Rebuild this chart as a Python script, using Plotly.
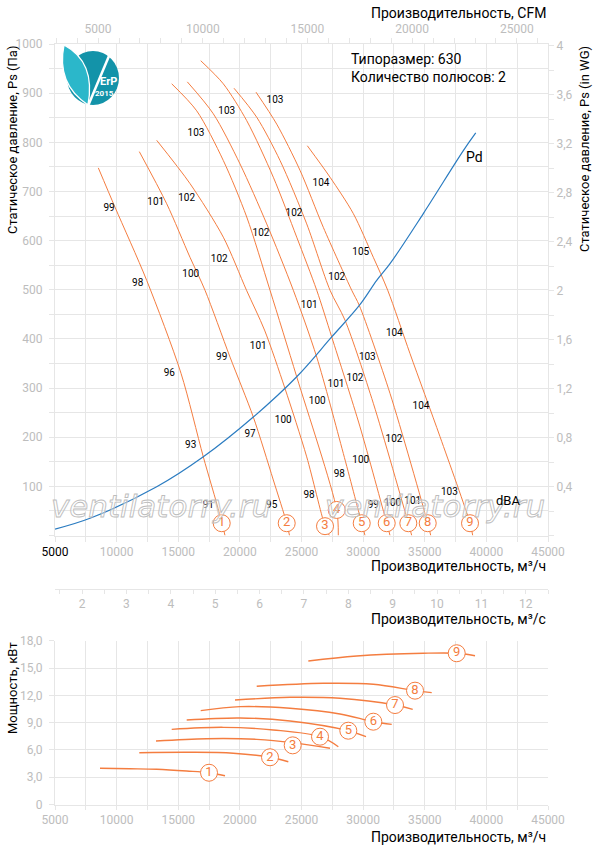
import base64
import plotly.graph_objects as go

W, H = 597, 850
ML, MR = 55, 49
PW = W - ML - MR


def px(xp):
    # pixel x -> paper x
    return (xp - ML) / PW


def py(yp):
    # pixel y -> paper y
    return 1 - yp / H


ORANGE = '#f47d40'
BLUE = '#2b7cc1'
GRID = '#e6e6e6'
TICK = '#bdbdbd'
FONT = 'Roboto, Noto Sans, sans-serif'

# fan curves, Q (m3/h) vs static pressure (Pa)
q1 = [8513, 9868, 12441, 15224, 17033, 18348, 18794]
p1 = [748, 668, 519, 330, 160, 45, 0]
q2 = [11840, 14063, 15954, 17171, 19200, 21090, 22713, 23800, 24027]
p2 = [781, 675, 566, 499, 363, 241, 113, 25, 0]
q3 = [13252, 15954, 18656, 20538, 22000, 23662, 25423, 26908, 27257]
p3 = [804, 716, 607, 499, 418, 299, 160, 19, 0]
q4 = [14469, 16498, 18656, 20555, 22445, 24611, 27857, 27987]
p4 = [919, 864, 763, 648, 499, 323, 52, 0]
q5 = [15735, 17845, 20011, 22177, 24336, 26235, 28393, 29886, 30153]
p5 = [923, 858, 756, 634, 499, 363, 167, 25, 0]
q6 = [16822, 18656, 20555, 22713, 24611, 26235, 27452, 29748, 31914, 32182]
p6 = [966, 919, 844, 729, 607, 499, 404, 221, 25, 0]
q7 = [19524, 21366, 23257, 25423, 27314, 28531, 30827, 33667, 33943]
p7 = [910, 851, 763, 634, 499, 438, 269, 25, 0]
q8 = [21309, 22989, 24879, 26770, 29074, 29691, 32182, 35241, 35485]
p8 = [902, 837, 743, 627, 499, 468, 289, 25, 0]
q9 = [25472, 27314, 29204, 30827, 31995, 33805, 36239, 38673, 38892]
p9 = [793, 729, 655, 566, 499, 370, 201, 25, 0]

# dynamic pressure
pd_q = [5000, 7840, 13252, 17033, 21090, 24611, 27452, 29691, 31103, 32182, 34884, 38130, 39136]
pd_p = [13, 35, 99, 160, 241, 323, 404, 468, 519, 553, 655, 783, 819]

# noise level labels (dBA)
lbl_q = [22851, 18932, 16441, 9382, 13171, 15686, 26583, 24392, 21715, 18331,
         16011, 11710, 29805, 27857, 25634, 32531, 21496, 18526, 30340, 14274,
         29342, 27800, 26283, 34697, 23524, 32506, 20822, 16011, 29805, 28068,
         25610, 36994, 17439, 22583, 30827, 32401, 34024]
lbl_p = [885, 863, 817, 666, 678, 685, 717, 656, 614, 562,
         531, 512, 575, 525, 468, 411, 385, 363, 363, 330,
         319, 308, 273, 263, 235, 196, 206, 183, 152, 124,
         82, 88, 61, 61, 61, 65, 69]
lbl_t = ['103', '103', '103', '99', '101', '102', '104', '102', '102', '102',
         '100', '98', '105', '102', '101', '104', '101', '99', '103', '96',
         '102', '101', '100', '104', '100', '102', '97', '93', '100', '98',
         '98', '103', '91', '95', '99', '100', '101']

curve_no = ['1', '2', '3', '4', '5', '6', '7', '8', '9']
circ_q = [18526, 23800, 26908, 27857, 29886, 31914, 33667, 35241, 38673]
circ_p = [25, 25, 19, 52, 25, 25, 25, 25, 25]

# power curves, Q (m3/h) vs kW
k1_q = [8651, 11085, 13252, 15686, 17496, 18794]
k1 = [3.98, 3.93, 3.87, 3.68, 3.49, 3.16]
k2_q = [11840, 15954, 19468, 22445, 23930]
k2 = [5.69, 5.74, 5.63, 5.19, 4.70]
k3_q = [13195, 17309, 21366, 24287, 27314]
k3 = [6.98, 7.23, 7.16, 6.8, 6.18]
k4_q = [14469, 18656, 22713, 26502, 27987]
k4 = [8.26, 8.48, 8.19, 7.45, 6.35]
k5_q = [15686, 20011, 24068, 28799, 30234]
k5 = [9.29, 9.51, 9.18, 8.11, 7.45]
k6_q = [16822, 20011, 24068, 28125, 30827, 32320]
k6 = [10.31, 10.75, 10.57, 9.95, 9.10, 8.81]
k7_q = [19605, 24068, 28125, 32588, 34024]
k7 = [11.48, 11.78, 11.67, 10.93, 10.46]
k8_q = [21366, 26770, 30827, 34211, 35566]
k8 = [12.99, 13.32, 13.21, 12.51, 12.29]
k9_q = [25553, 29480, 34884, 37594, 39079]
k9 = [15.77, 16.32, 16.62, 16.62, 16.35]

pcirc_q = [17496, 22445, 24287, 26502, 28799, 30827, 32588, 34211, 37594]
pcirc_kw = [3.49, 5.19, 6.5, 7.45, 8.11, 9.10, 10.93, 12.51, 16.62]

Q_MIN, Q_MAX = 5000, 45000
CFM = 1.699011
PA_PER_INWG = 249.089

fig = go.Figure()

curves = [(q1, p1), (q2, p2), (q3, p3), (q4, p4), (q5, p5),
          (q6, p6), (q7, p7), (q8, p8), (q9, p9)]
for q, p in curves:
    fig.add_trace(go.Scatter(x=q, y=p, mode='lines', hoverinfo='skip', showlegend=False,
                             line=dict(color=ORANGE, width=1, shape='spline', smoothing=0.8)))

fig.add_trace(go.Scatter(x=pd_q, y=pd_p, mode='lines', hoverinfo='skip', showlegend=False,
                         line=dict(color=BLUE, width=1.2, shape='spline')))

fig.add_trace(go.Scatter(x=lbl_q, y=lbl_p, text=lbl_t, mode='text', hoverinfo='skip',
                         showlegend=False, textfont=dict(size=10, color='black', family=FONT)))

fig.add_trace(go.Scatter(x=circ_q, y=circ_p, text=curve_no, mode='markers+text',
                         textposition='middle center', cliponaxis=False, hoverinfo='skip',
                         showlegend=False,
                         marker=dict(size=17, color='white', line=dict(color=ORANGE, width=1)),
                         textfont=dict(size=13, color=ORANGE, family=FONT)))

# dummy traces so the secondary scales are drawn
fig.add_trace(go.Scatter(x=[Q_MIN / CFM, Q_MAX / CFM], y=[0, 0], xaxis='x2', yaxis='y',
                         mode='markers', marker=dict(opacity=0), hoverinfo='skip', showlegend=False))
fig.add_trace(go.Scatter(x=[Q_MIN, Q_MIN], y=[0, 1000 / PA_PER_INWG], xaxis='x', yaxis='y2',
                         mode='markers', marker=dict(opacity=0), hoverinfo='skip', showlegend=False))
fig.add_trace(go.Scatter(x=[Q_MIN / 3600, Q_MAX / 3600], y=[0, 0], xaxis='x3', yaxis='y',
                         mode='markers', marker=dict(opacity=0), hoverinfo='skip', showlegend=False))

# power chart
power = [(k1_q, k1), (k2_q, k2), (k3_q, k3), (k4_q, k4), (k5_q, k5),
         (k6_q, k6), (k7_q, k7), (k8_q, k8), (k9_q, k9)]
for q, k in power:
    fig.add_trace(go.Scatter(x=q, y=k, xaxis='x4', yaxis='y4', mode='lines', hoverinfo='skip',
                             showlegend=False, line=dict(color=ORANGE, width=1.4, shape='spline')))

fig.add_trace(go.Scatter(x=pcirc_q, y=pcirc_kw, text=curve_no, xaxis='x4', yaxis='y4',
                         mode='markers+text', textposition='middle center', cliponaxis=False,
                         hoverinfo='skip', showlegend=False,
                         marker=dict(size=17, color='white', line=dict(color=ORANGE, width=1)),
                         textfont=dict(size=13, color=ORANGE, family=FONT)))

# tick setups
qx_vals = list(range(5000, 45001, 2500))
qx_text = [str(v) if v % 5000 == 0 else '' for v in qx_vals]
qx_main_text = list(qx_text)
qx_main_text[0] = "<span style='color:black'>5000</span>"

pa_vals = list(range(0, 1001, 50))
pa_text = [str(v) if v % 100 == 0 and v > 0 else '' for v in pa_vals]

wg_vals = [round(0.2 * i, 1) for i in range(21)]
wg_text = [('%g' % v).replace('.', ',') if i % 2 == 0 and i > 0 else '' for i, v in enumerate(wg_vals)]

cfm_vals = list(range(3000, 26001, 1000))
cfm_text = [str(v) if v % 5000 == 0 else '' for v in cfm_vals]

ms_vals = [1.5 + 0.5 * i for i in range(23)]
ms_text = [str(int(v)) if v == int(v) else '' for v in ms_vals]

kw_vals = [0, 3, 6, 9, 12, 15, 18]
kw_text = ['0', '3,0', '6,0', '9,0', '12,0', '15,0', '18,0']

tickfont = dict(size=12, color=TICK, family=FONT)
common = dict(showline=True, linecolor=GRID, ticks='outside', ticklen=5, tickcolor=GRID,
              tickfont=tickfont, zeroline=False, tickmode='array', automargin=False)
ms_common = dict(common, ticklen=4)

fig.update_layout(
    width=W, height=H,
    margin=dict(l=ML, r=MR, t=0, b=0),
    paper_bgcolor='white', plot_bgcolor='white',
    font=dict(family=FONT, color='black'),
    separators=', ',
    xaxis=dict(domain=[0, 1], anchor='y', range=[Q_MIN, Q_MAX], tickvals=qx_vals,
               ticktext=qx_main_text, showgrid=True, gridcolor=GRID, **common),
    yaxis=dict(domain=[py(535.5), py(44)], anchor='x', range=[0, 1000], tickvals=pa_vals,
               ticktext=pa_text, showgrid=True, gridcolor=GRID, ticklabelstandoff=4, **common),
    xaxis2=dict(overlaying='x', anchor='y', side='top', range=[Q_MIN / CFM, Q_MAX / CFM],
                tickvals=cfm_vals, ticktext=cfm_text, showgrid=False, **common),
    yaxis2=dict(overlaying='y', anchor='x', side='right', range=[0, 1000 / PA_PER_INWG],
                tickvals=wg_vals, ticktext=wg_text, showgrid=False, **common),
    xaxis3=dict(overlaying='x', anchor='free', position=py(589), side='bottom',
                range=[Q_MIN / 3600, Q_MAX / 3600], tickvals=ms_vals, ticktext=ms_text,
                showgrid=False, **ms_common),
    xaxis4=dict(domain=[0, 1], anchor='y4', range=[Q_MIN, Q_MAX], tickvals=qx_vals,
                ticktext=qx_text, showgrid=True, gridcolor=GRID, **ms_common),
    yaxis4=dict(domain=[py(804.5), py(640.7)], anchor='x4', range=[0, 18], tickvals=kw_vals,
                ticktext=kw_text, showgrid=True, gridcolor=GRID, ticklabelstandoff=4, **common),
)


def note(text, x, y, size=14, **kw):
    opts = dict(xref='paper', yref='paper', xanchor='center', yanchor='middle',
                showarrow=False, font=dict(size=size, color='black', family=FONT))
    opts.update(kw)
    fig.add_annotation(text=text, x=x, y=y, **opts)


note('Производительность, CFM', px(548), py(13), xanchor='right')
note('Производительность, м³/ч', px(548), py(566), xanchor='right')
note('Производительность, м³/с', px(548), py(619), xanchor='right')
note('Производительность, м³/ч', px(548), py(837), xanchor='right')

note('Статическое давление, Ps (Па)', px(12), py(44), size=13, yanchor='top', textangle=-90)
note('Статическое давление, Ps (in WG)', px(584), py(44), size=13, yanchor='top', textangle=-90)
note('Мощность, кВт', px(12), py(640), size=13, yanchor='top', textangle=-90)

note('Типоразмер: 630<br>Количество полюсов: 2', px(349), py(49), xanchor='left',
     yanchor='top', align='left')

note('Pd', 38998, 770, xref='x', yref='y')
note('dBA', 41756, 72, size=13, xref='x', yref='y')

# watermark: outlined italic text as an inline svg image
WM_W, WM_H = 240, 46
wm_svg = (
    "<svg xmlns='http://www.w3.org/2000/svg' width='%d' height='%d' viewBox='0 0 %d %d'>"
    "<text x='%d' y='34' text-anchor='middle' font-family='DejaVu Sans' font-style='italic' "
    "font-size='31' fill='white' fill-opacity='0.35' stroke='#bdbdbd' stroke-width='0.9'>"
    "ventilatorry.ru</text></svg>" % (WM_W, WM_H, WM_W, WM_H, WM_W // 2)
)
wm_src = 'data:image/svg+xml;base64,' + base64.b64encode(wm_svg.encode()).decode()
for cx in (161, 435):
    fig.add_layout_image(source=wm_src, xref='paper', yref='paper', x=px(cx), y=py(483),
                         sizex=WM_W / PW, sizey=WM_H / H, xanchor='center', yanchor='top',
                         sizing='stretch', layer='above')

# white box behind the info text
fig.add_shape(type='rect', xref='paper', yref='paper', x0=px(347), x1=px(547), y0=py(97),
              y1=py(45), fillcolor='white', line=dict(width=0), layer='between')


def path(points):
    # points: list of (cmd, [(x, y), ...]) in pixels
    out = []
    for cmd, pts in points:
        out.append(cmd + ' '.join('%.4f,%.4f' % (px(x), py(y)) for x, y in pts))
    return ' '.join(out)


# ErP logo
fig.add_shape(type='circle', xref='paper', yref='paper', x0=px(67), x1=px(119), y0=py(105),
              y1=py(51), fillcolor='#1393a9', line=dict(width=0))
fig.add_shape(type='path', xref='paper', yref='paper',
              path=path([('M', [(88, 105)]), ('Q', [(56, 84), (64, 45)]),
                         ('Q', [(96, 62), (88, 105)]), ('Z', [])]),
              fillcolor='#2bb7ca', line=dict(color='white', width=1.3))
fig.add_shape(type='path', xref='paper', yref='paper',
              path=path([('M', [(88, 106)]), ('Q', [(102, 72.5), (109, 56)])]),
              line=dict(color='white', width=2.5))
note('<b>ErP</b>', px(108), py(82), font=dict(size=11, color='white', family=FONT))
note('<b>2015</b>', px(104.5), py(93.5), font=dict(size=8, color='white', family=FONT))

# the page body has a default 8px margin; drop it so the figure sits at the window corner
fig.write_html('out.html', config={'displayModeBar': False},
               post_script="document.body.style.margin='0px';")
